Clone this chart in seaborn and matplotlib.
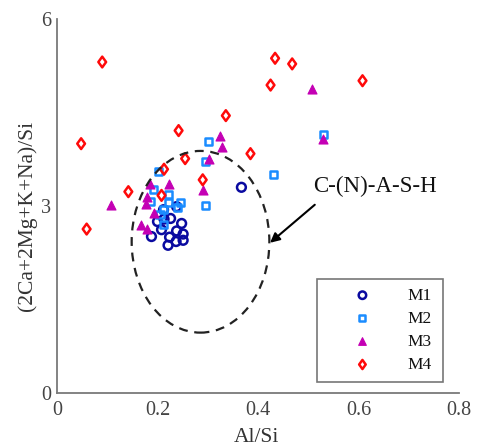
import numpy as np
import pandas as pd
import matplotlib
matplotlib.use("Agg")
import matplotlib.pyplot as plt
from matplotlib.patches import Ellipse
from matplotlib.path import Path
import seaborn as sns

# ---- data ----
m1_x = [0.367, 0.238, 0.212, 0.200, 0.213, 0.226, 0.248, 0.208, 0.238, 0.251, 0.188, 0.224, 0.237, 0.251, 0.221]
m1_y = [3.30, 2.99, 2.94, 2.75, 2.79, 2.80, 2.72, 2.62, 2.60, 2.55, 2.51, 2.50, 2.43, 2.45, 2.37]

m2_x = [0.301, 0.530, 0.295, 0.202, 0.431, 0.192, 0.222, 0.185, 0.222, 0.246, 0.239, 0.296, 0.212, 0.205, 0.212]
m2_y = [4.04, 4.14, 3.71, 3.55, 3.51, 3.26, 3.18, 3.07, 3.06, 3.06, 2.98, 3.01, 2.94, 2.86, 2.70]

m3_x = [0.507, 0.325, 0.328, 0.529, 0.302, 0.107, 0.186, 0.222, 0.291, 0.180, 0.178, 0.193, 0.167, 0.180]
m3_y = [4.87, 4.12, 3.95, 4.08, 3.75, 3.02, 3.36, 3.35, 3.25, 3.15, 3.04, 2.88, 2.70, 2.63]

m4_x = [0.090, 0.434, 0.468, 0.425, 0.608, 0.336, 0.242, 0.048, 0.385, 0.255, 0.213, 0.142, 0.290, 0.208, 0.059]
m4_y = [5.31, 5.37, 5.28, 4.94, 5.01, 4.45, 4.21, 4.00, 3.84, 3.76, 3.59, 3.23, 3.42, 3.17, 2.63]

groups = ["M1", "M2", "M3", "M4"]
xticks = [0, 0.2, 0.4, 0.6, 0.8]
xticklabels = ["0", "0.2", "0.4", "0.6", "0.8"]
yticks = [0, 3, 6]

df = pd.concat([
    pd.DataFrame({"x": m1_x, "y": m1_y, "g": "M1"}),
    pd.DataFrame({"x": m2_x, "y": m2_y, "g": "M2"}),
    pd.DataFrame({"x": m3_x, "y": m3_y, "g": "M3"}),
    pd.DataFrame({"x": m4_x, "y": m4_y, "g": "M4"}),
])

# diamond a bit wider than matplotlib's 'd'
diamond = Path([(0, 1), (0.72, 0), (0, -1), (-0.72, 0), (0, 1)],
               [Path.MOVETO, Path.LINETO, Path.LINETO, Path.LINETO, Path.CLOSEPOLY])

# ---- styles ----
colors = {"M1": "#0a0aa0", "M2": "#1a8cff", "M3": "#c400b4", "M4": "#ff0a0a"}
markers = {"M1": "o", "M2": "s", "M3": "^", "M4": diamond}
sizes = {"M1": 40, "M2": 26, "M3": 42, "M4": 60}
filled = {"M1": False, "M2": False, "M3": True, "M4": False}

sns.set_style("white")
plt.rcParams["font.family"] = ["Liberation Serif", "DejaVu Serif"]

fig = plt.figure(figsize=(4.78, 4.46), dpi=100)
ax = fig.add_axes([57 / 478, 1 - 393 / 446, 402 / 478, 374 / 446])

for g in groups:
    sub = df[df["g"] == g]
    c = colors[g]
    if filled[g]:
        sns.scatterplot(data=sub, x="x", y="y", ax=ax, color=c, marker=markers[g],
                        s=sizes[g], facecolors=c, edgecolors=c, linewidth=0.8, label=g)
    else:
        sns.scatterplot(data=sub, x="x", y="y", ax=ax, color=c, marker=markers[g],
                        s=sizes[g], facecolors="none", edgecolors=c, linewidth=1.8, label=g)

# dashed region
ell = Ellipse((0.2856, 2.426), 0.274, 2.915, fill=False, ls=(0, (4, 3)),
              lw=1.6, ec="#222222")
ax.add_patch(ell)

ax.annotate("", xy=(0.424, 2.41), xytext=(0.513, 3.02),
            arrowprops=dict(arrowstyle="-|>", color="black", lw=1.5,
                            mutation_scale=14, shrinkA=0, shrinkB=0))
ax.text(0.632, 3.31, "C-(N)-A-S-H", fontsize=16.5, ha="center", va="center", color="#111111")

ax.set_xlim(0, 0.8)
ax.set_ylim(0, 6)
ax.set_xticks(xticks)
ax.set_xticklabels(xticklabels)
ax.set_yticks(yticks)

for side in ["top", "right"]:
    ax.spines[side].set_visible(False)
for side in ["left", "bottom"]:
    ax.spines[side].set_color("#7a7a7a")
    ax.spines[side].set_linewidth(1.3)

ax.tick_params(axis="both", direction="in", length=3.5, width=1, color="#7a7a7a",
               labelsize=14.5, labelcolor="#444444")
ax.tick_params(axis="x", pad=6)
ax.tick_params(axis="y", pad=4)

ax.set_xlabel("Al/Si", fontsize=15.5, color="#333333")
ax.set_ylabel("(2Ca+2Mg+K+Na)/Si", fontsize=15.5, color="#333333")
ax.xaxis.set_label_coords(0.497, -0.094)
ax.yaxis.set_label_coords(-0.05, 0.473)

leg = ax.legend(loc="upper left", bbox_to_anchor=(0.6475, 0.305, 0.3135, 0.0),
                mode="expand", borderaxespad=0, frameon=True, fancybox=False,
                fontsize=12.5, handlelength=4.2, handletextpad=0.5, labelspacing=0.4,
                borderpad=0.5, markerscale=0.85)
leg.get_frame().set_edgecolor("#555555")
leg.get_frame().set_linewidth(1.2)
for t in leg.get_texts():
    t.set_ha("right")
    t.set_color("#111111")

fig.savefig("out.png", dpi=100)
